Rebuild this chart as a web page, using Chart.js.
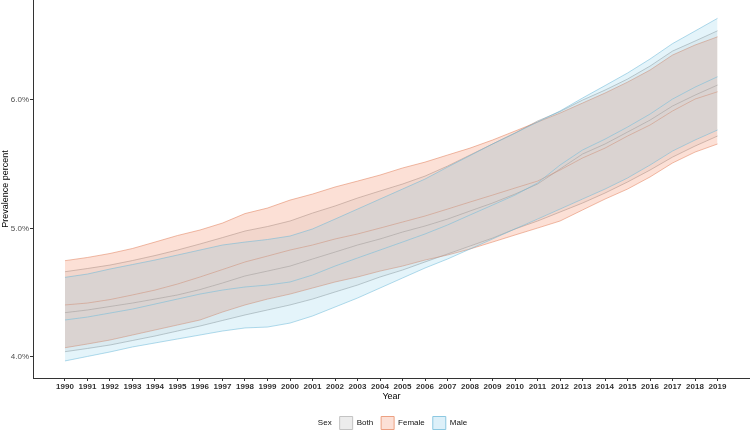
<!DOCTYPE html>
<html>
<head>
<meta charset="utf-8">
<script src="https://cdn.jsdelivr.net/npm/chart.js@4.4.0/dist/chart.umd.min.js"></script>
<style>
html,body{margin:0;padding:0;background:#fff;overflow:hidden}
canvas{display:block}
</style>
</head>
<body>
<canvas id="c" width="750" height="430"></canvas>
<script>
// ---- data (prevalence, %) ----
const years = [1990,1991,1992,1993,1994,1995,1996,1997,1998,1999,2000,2001,2002,2003,2004,2005,2006,2007,2008,2009,2010,2011,2012,2013,2014,2015,2016,2017,2018,2019];
const yTicks = [4, 5, 6];

const bothUpper   = [4.662,4.687,4.714,4.749,4.788,4.831,4.878,4.928,4.979,5.014,5.057,5.119,5.174,5.236,5.291,5.345,5.407,5.485,5.571,5.657,5.742,5.836,5.910,5.999,6.077,6.163,6.264,6.381,6.459,6.539];
const bothMid     = [4.343,4.364,4.391,4.418,4.449,4.481,4.523,4.574,4.629,4.667,4.706,4.761,4.815,4.870,4.917,4.971,5.018,5.072,5.135,5.197,5.267,5.345,5.462,5.579,5.657,5.750,5.843,5.953,6.038,6.116];
const bothLower   = [4.039,4.064,4.091,4.126,4.161,4.200,4.239,4.282,4.325,4.364,4.403,4.449,4.504,4.558,4.621,4.675,4.738,4.800,4.862,4.924,4.995,5.057,5.127,5.197,5.275,5.361,5.454,5.555,5.641,5.719];

const femaleUpper = [4.748,4.773,4.804,4.843,4.893,4.944,4.987,5.041,5.115,5.158,5.220,5.267,5.322,5.368,5.415,5.470,5.516,5.571,5.625,5.688,5.758,5.828,5.898,5.976,6.054,6.139,6.233,6.350,6.428,6.492];
const femaleMid   = [4.403,4.418,4.445,4.481,4.519,4.566,4.621,4.679,4.738,4.784,4.831,4.870,4.917,4.956,5.002,5.049,5.096,5.150,5.205,5.259,5.314,5.368,5.454,5.548,5.625,5.719,5.805,5.914,6.007,6.064];
const femaleLower = [4.070,4.099,4.130,4.169,4.208,4.247,4.286,4.348,4.403,4.449,4.488,4.535,4.582,4.621,4.667,4.706,4.753,4.792,4.839,4.893,4.948,5.002,5.057,5.143,5.228,5.306,5.400,5.509,5.594,5.657];

const maleUpper   = [4.618,4.644,4.683,4.718,4.753,4.792,4.831,4.870,4.893,4.913,4.940,4.995,5.072,5.150,5.228,5.306,5.384,5.477,5.567,5.657,5.742,5.828,5.914,6.015,6.112,6.210,6.319,6.439,6.537,6.636];
const maleMid     = [4.286,4.309,4.340,4.371,4.410,4.449,4.488,4.519,4.543,4.558,4.582,4.636,4.706,4.769,4.831,4.893,4.956,5.026,5.104,5.181,5.259,5.353,5.493,5.610,5.695,5.789,5.890,6.007,6.100,6.181];
const maleLower   = [3.967,4.002,4.037,4.076,4.107,4.138,4.169,4.200,4.224,4.231,4.262,4.317,4.387,4.457,4.535,4.613,4.691,4.761,4.839,4.917,4.995,5.072,5.150,5.228,5.306,5.392,5.493,5.602,5.688,5.766];

const sexLabels = ['Both', 'Female', 'Male'];

// ---- styles ----
const style = {
  Both:   { fill: 'rgba(128,128,128,0.10)', line: 'rgba(150,150,150,0.6)', key: 'rgb(236,236,236)', keyLine: 'rgb(195,195,195)' },
  Female: { fill: 'rgba(244,130,90,0.25)',  line: 'rgba(226,130,95,0.6)',  key: 'rgb(252,224,214)', keyLine: 'rgb(236,160,130)' },
  Male:   { fill: 'rgba(120,200,230,0.20)', line: 'rgba(110,185,215,0.6)', key: 'rgb(221,240,249)', keyLine: 'rgb(140,200,225)' }
};

const series = {
  Both:   { upper: bothUpper,   mid: bothMid,   lower: bothLower },
  Female: { upper: femaleUpper, mid: femaleMid, lower: femaleLower },
  Male:   { upper: maleUpper,   mid: maleMid,   lower: maleLower }
};

const toXY = arr => arr.map((v, i) => ({ x: years[i], y: v }));

// Male first so it is drawn on top (Chart.js draws index 0 last)
const drawOrder = ['Male', 'Female', 'Both'];
const datasets = [];
drawOrder.forEach(name => {
  const s = series[name], st = style[name];
  const base = datasets.length;
  datasets.push({ label: name + ' upper', data: toXY(s.upper), borderColor: st.line, backgroundColor: st.fill, borderWidth: 0.9, pointRadius: 0, tension: 0, fill: base + 1 });
  datasets.push({ label: name + ' lower', data: toXY(s.lower), borderColor: st.line, borderWidth: 0.9, pointRadius: 0, tension: 0, fill: false });
  datasets.push({ label: name, data: toXY(s.mid), borderColor: st.line, borderWidth: 0.9, pointRadius: 0, tension: 0, fill: false });
});

const legendShift = {
  id: 'legendShift',
  afterLayout(chart) {
    const l = chart.legend;
    if (l) { l.left += 9; l.right += 9; l.top += 3; l.bottom += 3; }
  }
};

Chart.defaults.font.family = "'Liberation Sans', Arial, sans-serif";

new Chart(document.getElementById('c'), {
  type: 'line',
  data: { datasets },
  plugins: [legendShift],
  options: {
    responsive: false,
    devicePixelRatio: 1,
    animation: false,
    layout: { padding: { top: 0, right: 0, bottom: 0, left: 0 } },
    plugins: {
      tooltip: { enabled: false },
      legend: {
        display: true,
        position: 'bottom',
        maxHeight: 24.5,
        onClick: null,
        labels: {
          boxWidth: 13,
          boxHeight: 13,
          padding: 8,
          color: '#111',
          font: { size: 8 },
          generateLabels: () => [
            { text: 'Sex', fillStyle: 'rgba(0,0,0,0)', strokeStyle: 'rgba(0,0,0,0)', lineWidth: 0, hidden: false, fontColor: '#111' }
          ].concat(sexLabels.map(n => ({
            text: n, fillStyle: style[n].key, strokeStyle: style[n].keyLine, lineWidth: 1, hidden: false, fontColor: '#111'
          })))
        }
      }
    },
    scales: {
      x: {
        type: 'linear',
        min: 1988.578,
        max: 2020.444,
        afterBuildTicks: s => { s.ticks = years.map(v => ({ value: v })); },
        afterFit: s => { s.height = 27.5; s.paddingLeft = 0; s.paddingRight = 0; },
        grid: { display: true, drawOnChartArea: false, drawTicks: true, tickLength: 3, color: '#333' },
        border: { display: true, color: '#333', width: 1 },
        ticks: {
          autoSkip: false, maxRotation: 0, minRotation: 0, padding: 1,
          color: '#333', font: { size: 8, weight: 'bold' },
          callback: v => String(v)
        },
        title: { display: true, text: 'Year', color: '#000', font: { size: 9 }, padding: { top: 0, bottom: 4 } }
      },
      y: {
        type: 'linear',
        min: 3.834,
        max: 6.779,
        afterBuildTicks: s => { s.ticks = yTicks.map(v => ({ value: v })); },
        afterFit: s => { s.width = 33; s.paddingTop = 0; s.paddingBottom = 0; },
        grid: { display: true, drawOnChartArea: false, drawTicks: true, tickLength: 3, color: '#333' },
        border: { display: true, color: '#333', width: 1 },
        ticks: {
          padding: 1, color: '#4d4d4d', font: { size: 8 },
          callback: v => v.toFixed(1) + '%'
        },
        title: { display: true, text: 'Prevalence percent', color: '#000', font: { size: 9 }, padding: { top: 0, bottom: 0 } }
      }
    }
  }
});
</script>
</body>
</html>
